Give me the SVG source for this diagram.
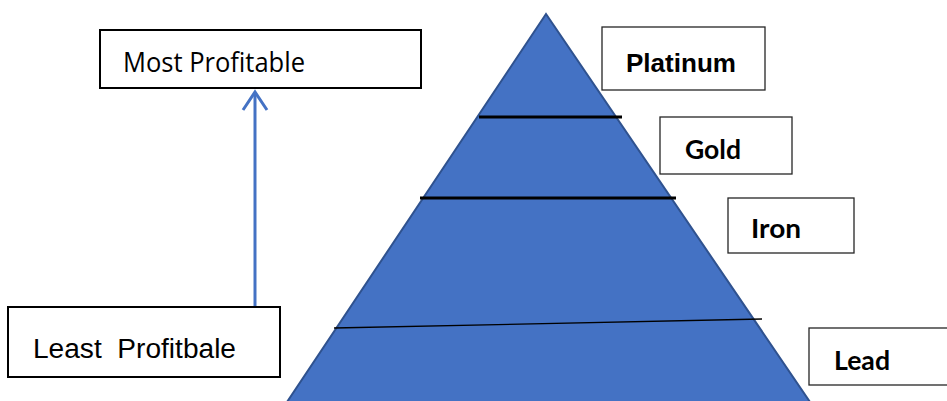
<svg xmlns="http://www.w3.org/2000/svg" width="947" height="401" viewBox="0 0 947 401">
  <style>
    .box-l { fill: #ffffff; stroke: #000000; stroke-width: 2; }
    .box-r { fill: #ffffff; stroke: #262626; stroke-width: 1.3; }
    .lbl { font-family: "Open Sans", "Liberation Sans", sans-serif; font-size: 27px; fill: #000000; }
    .lbl-a { font-family: "Liberation Sans", Arial, sans-serif; font-size: 27px; fill: #000000; white-space: pre; }
    .tier { font-family: "Lato", "Liberation Sans", sans-serif; font-weight: bold; font-size: 26px; fill: #000000; }
    .tier-a { font-family: "Liberation Sans", Arial, sans-serif; font-weight: bold; font-size: 26px; fill: #000000; }
    .sep-thick { stroke: #000000; stroke-width: 3; }
    .sep-thin { stroke: #000000; stroke-width: 1.3; }
    .arrow { stroke: #4472C4; stroke-width: 3; fill: none; }
  </style>
  <rect width="947" height="401" fill="#ffffff"/>

  <g id="pyramid">
    <polygon points="546,14 287,402 810,402" fill="#4472C4" stroke="#2F528F" stroke-width="2"/>
    <line class="sep-thick" x1="479" y1="117" x2="622" y2="117"/>
    <line class="sep-thick" x1="420" y1="198" x2="676" y2="198"/>
    <line class="sep-thin" x1="334" y1="328" x2="762" y2="319"/>
  </g>

  <g id="connectors">
    <line class="arrow" x1="255" y1="306" x2="255" y2="92"/>
    <polyline class="arrow" points="243,110 255,92 267,110"/>
  </g>

  <g id="most-profitable">
    <rect class="box-l" x="100" y="30" width="321" height="58"/>
    <text class="lbl" x="123" y="72" textLength="182" lengthAdjust="spacingAndGlyphs">Most Profitable</text>
  </g>

  <g id="least-profitable">
    <rect class="box-l" x="8" y="307" width="272" height="70"/>
    <text class="lbl-a" x="33" y="358" textLength="203" lengthAdjust="spacingAndGlyphs" xml:space="preserve">Least  Profitbale</text>
  </g>

  <g id="platinum">
    <rect class="box-r" x="602" y="27" width="163" height="63"/>
    <text class="tier-a" x="626" y="72" textLength="110" lengthAdjust="spacingAndGlyphs">Platinum</text>
  </g>

  <g id="gold">
    <rect class="box-r" x="660" y="117" width="132" height="57"/>
    <text class="tier" x="685" y="159" textLength="56" lengthAdjust="spacingAndGlyphs">Gold</text>
  </g>

  <g id="iron">
    <rect class="box-r" x="728" y="198" width="126" height="55"/>
    <text class="tier" x="751" y="238" textLength="50" lengthAdjust="spacingAndGlyphs">Iron</text>
  </g>

  <g id="lead">
    <rect class="box-r" x="809" y="328" width="145" height="57"/>
    <text class="tier" x="834" y="370" textLength="56" lengthAdjust="spacingAndGlyphs">Lead</text>
  </g>
</svg>
